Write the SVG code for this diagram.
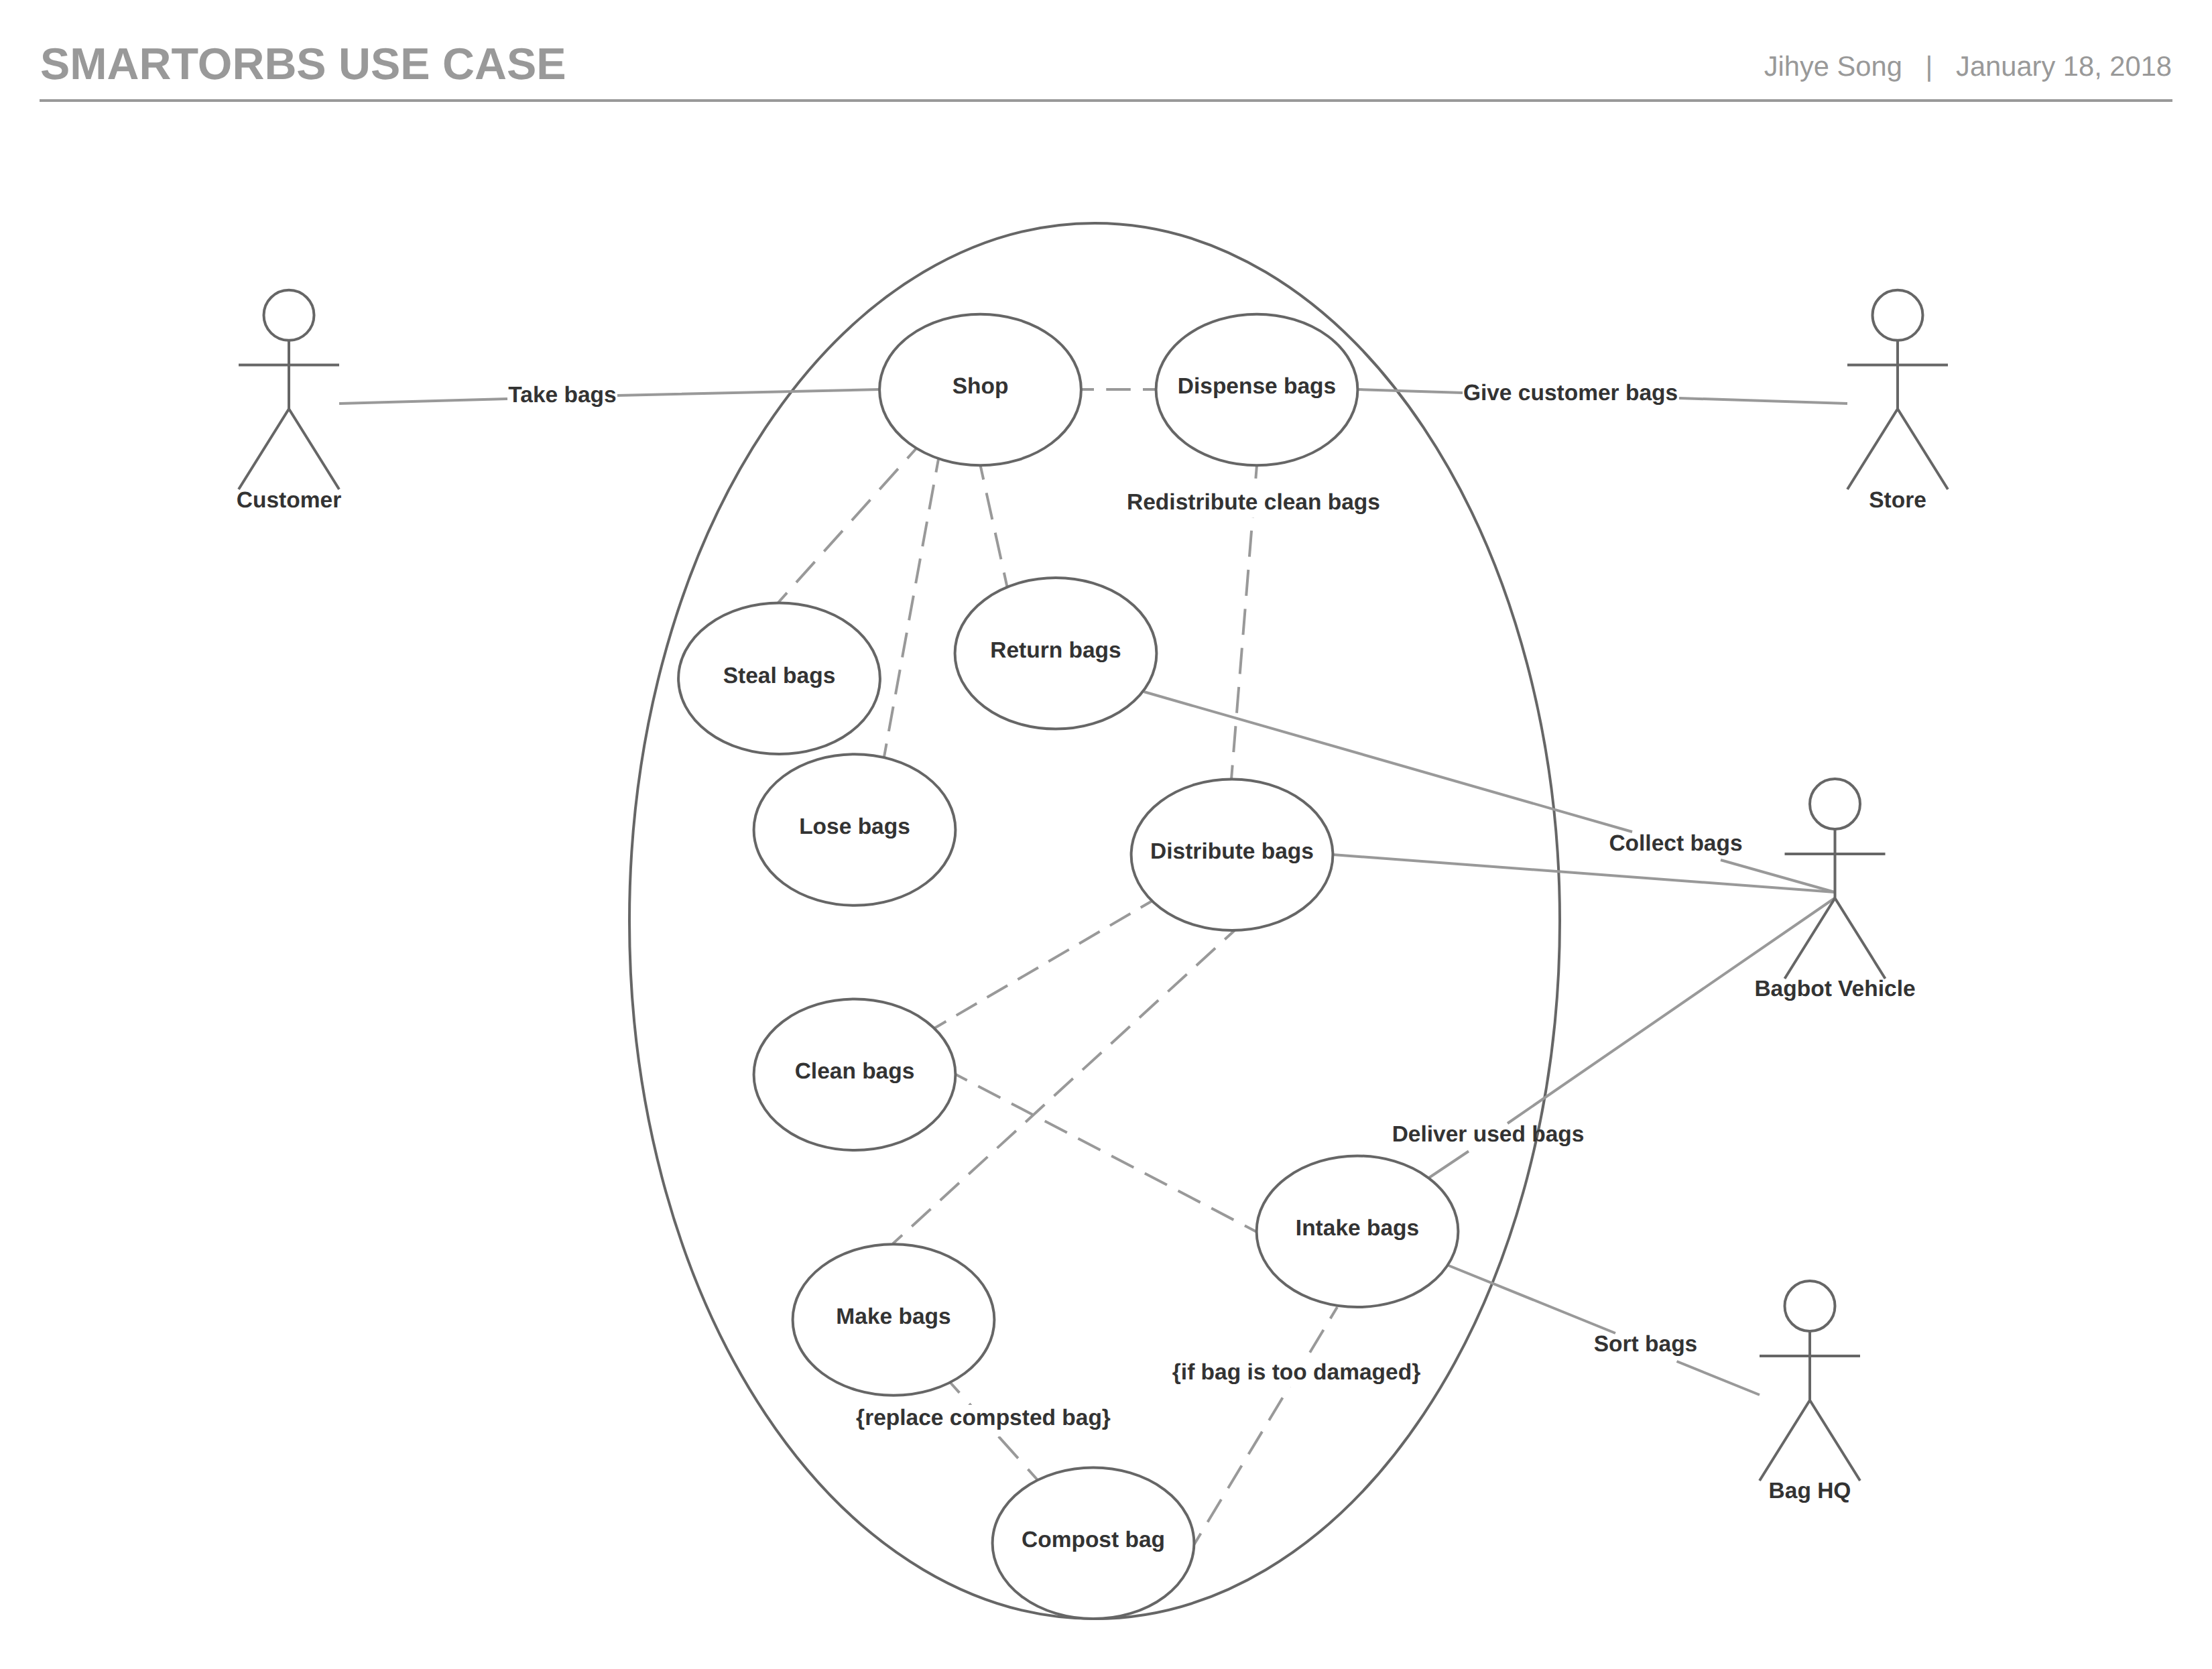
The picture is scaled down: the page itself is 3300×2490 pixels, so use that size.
<svg xmlns="http://www.w3.org/2000/svg" width="3300" height="2490" viewBox="0 0 3300 2490">
<style>
text{font-family:"Liberation Sans",Arial,sans-serif;text-rendering:geometricPrecision}
.t{font-size:33.5px;font-weight:700;fill:#333;text-anchor:middle}
.s{fill:#fff;stroke:#666;stroke-width:4}
.a{fill:none;stroke:#666;stroke-width:4}
.c{fill:none;stroke:#999;stroke-width:4}
.d{fill:none;stroke:#999;stroke-width:4}
.b{fill:#fff}
.u ellipse{fill:#fff;stroke:#666;stroke-width:4}
</style>
<rect width="3300" height="2490" fill="#fff"/>
<g id="header">
<text x="60" y="118" font-size="66.4" font-weight="700" fill="#999">SMARTORBS USE CASE</text>
<text x="3240" y="113" font-size="41.67" fill="#999" text-anchor="end">Jihye Song&#160;&#160;&#160;|&#160;&#160;&#160;January 18, 2018</text>
<line x1="59" y1="150" x2="3241" y2="150" stroke="#999" stroke-width="4"/>
</g>
<g id="system-boundary"><ellipse class="s" cx="1633" cy="1374" rx="694" ry="1041"/></g>
<g id="connectors">
<path class="c" d="M506 602L757 595M921 590L1312 581"/>
<path class="c" d="M2026 581L2182 586M2505 594L2756 602"/>
<path class="d" stroke-dasharray="36.5 18.25" stroke-dashoffset="16.5" d="M1612 581H1725"/>
<path class="d" stroke-dasharray="41.4 20.7" stroke-dashoffset="21.4" d="M1367 669L1161 899"/>
<path class="d" stroke-dasharray="37.4 18.7" stroke-dashoffset="17.4" d="M1400 685L1319 1129"/>
<path class="d" stroke-dasharray="40.6 20.3" stroke-dashoffset="18.6" d="M1462.5 694L1502.5 875.5"/>
<path class="d" stroke-dasharray="39 19.5" stroke-dashoffset="19" d="M1875 694L1837 1162.5"/>
<path class="d" stroke-dasharray="35.4 17.7" stroke-dashoffset="15.4" d="M1719 1344L1394 1534"/>
<path class="d" stroke-dasharray="38.4 19.2" stroke-dashoffset="18.4" d="M1842 1388L1332 1855.5"/>
<path class="d" stroke-dasharray="37.4 18.7" stroke-dashoffset="17.4" d="M1425 1602.5L1875 1838"/>
<path class="d" stroke-dasharray="43.7 21.9" stroke-dashoffset="23.7" d="M1418 2063L1547 2207"/>
<path class="d" stroke-dasharray="39.4 19.7" stroke-dashoffset="19.4" d="M1995 1950L1781 2305"/>
<path class="c" d="M1706.6 1032L2435 1241M2567 1283L2737 1331"/>
<path class="c" d="M1988 1275L2737 1331"/>
<path class="c" d="M2132 1757L2191 1717.5M2249 1676L2737 1340"/>
<path class="c" d="M2161 1888L2410 1989M2501.5 2031L2625 2081"/>
<rect class="b" x="1681" y="715" width="378" height="57"/>
<rect class="b" x="1277" y="2096" width="382" height="47"/>
<rect class="b" x="1748" y="2022" width="373" height="47"/>
</g>
<g id="uc-shop" class="u"><ellipse cx="1462.5" cy="581.5" rx="150.4" ry="112.8"/><text class="t" x="1462.5" y="587">Shop</text></g>
<g id="uc-dispense" class="u"><ellipse cx="1875" cy="581.5" rx="150.4" ry="112.8"/><text class="t" x="1875" y="587">Dispense bags</text></g>
<g id="uc-return" class="u"><ellipse cx="1575" cy="974.800" rx="150.4" ry="112.8"/><text class="t" x="1575" y="981">Return bags</text></g>
<g id="uc-steal" class="u"><ellipse cx="1162.500" cy="1012.300" rx="150.4" ry="112.8"/><text class="t" x="1162.500" y="1018.500">Steal bags</text></g>
<g id="uc-lose" class="u"><ellipse cx="1275" cy="1238" rx="150.4" ry="112.8"/><text class="t" x="1275" y="1244">Lose bags</text></g>
<g id="uc-distribute" class="u"><ellipse cx="1838" cy="1275.300" rx="150.4" ry="112.8"/><text class="t" x="1838" y="1281">Distribute bags</text></g>
<g id="uc-clean" class="u"><ellipse cx="1275" cy="1603.300" rx="150.4" ry="112.8"/><text class="t" x="1275" y="1609">Clean bags</text></g>
<g id="uc-intake" class="u"><ellipse cx="2025" cy="1837.300" rx="150.4" ry="112.8"/><text class="t" x="2025" y="1843">Intake bags</text></g>
<g id="uc-make" class="u"><ellipse cx="1333" cy="1969" rx="150.4" ry="112.8"/><text class="t" x="1333" y="1975">Make bags</text></g>
<g id="uc-compost" class="u"><ellipse cx="1631" cy="2302.300" rx="150.4" ry="112.8"/><text class="t" x="1631" y="2308">Compost bag</text></g>
<g id="connector-labels">
<text class="t" x="839" y="600">Take bags</text>
<text class="t" x="2343" y="597">Give customer bags</text>
<text class="t" x="1870" y="759.500">Redistribute clean bags</text>
<text class="t" x="2500" y="1269">Collect bags</text>
<text class="t" x="2220" y="1703">Deliver used bags</text>
<text class="t" x="2455" y="2016">Sort bags</text>
<text class="t" x="1934" y="2058">{if bag is too damaged}</text>
<text class="t" x="1467" y="2126">{replace compsted bag}</text>
</g>
<g id="actor-customer"><circle class="a" cx="431" cy="470.300" r="37.5"/><path class="a" d="M431 507.800V610M356 544.500H506M356 730L431 610L506 730"/><text class="t" x="431" y="757">Customer</text></g>
<g id="actor-store"><circle class="a" cx="2831" cy="470.300" r="37.5"/><path class="a" d="M2831 507.800V610M2756 544.500H2906M2756 730L2831 610L2906 730"/><text class="t" x="2831" y="757">Store</text></g>
<g id="actor-bagbot"><circle class="a" cx="2737.500" cy="1199.500" r="37.5"/><path class="a" d="M2737.500 1237V1340M2662.500 1274H2812.500M2662.500 1460L2737.500 1340L2812.500 1460"/><text class="t" x="2737.500" y="1486">Bagbot Vehicle</text></g>
<g id="actor-baghq"><circle class="a" cx="2700" cy="1948.500" r="37.5"/><path class="a" d="M2700 1986V2089M2625 2023H2775M2625 2209L2700 2089L2775 2209"/><text class="t" x="2700" y="2235">Bag HQ</text></g>
</svg>
